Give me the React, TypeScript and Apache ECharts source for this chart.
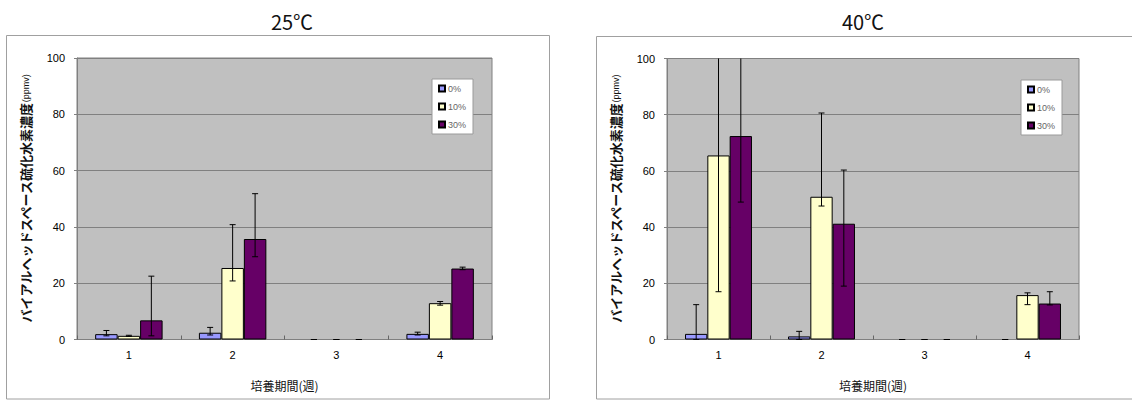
import React, { useEffect, useRef } from "react";
import * as echarts from "echarts";

const categories = ["1", "2", "3", "4"];
const seriesNames = ["0%", "10%", "30%"];
const seriesColors = ["#9999ff", "#ffffcc", "#660066"];

// 25℃
const t25_p0 = [1.9, 2.4, 0, 2.0];
const t25_p10 = [1.3, 25.4, 0, 12.9];
const t25_p30 = [6.8, 35.7, 0, 25.2];
const t25_p0_err = [[1.3, 3.2], [1.6, 4.3], [0, 0], [1.6, 2.6]];
const t25_p10_err = [[1.1, 1.5], [20.8, 40.8], [0, 0], [12.2, 13.5]];
const t25_p30_err = [[1.3, 22.5], [29.4, 51.8], [0, 0], [24.8, 25.7]];

// 40℃
const t40_p0 = [2.0, 1.1, 0, 0];
const t40_p10 = [65.5, 50.8, 0, 15.8];
const t40_p30 = [72.4, 41.2, 0, 12.8];
const t40_p0_err = [[0, 12.4], [0, 2.9], [0, 0], [0, 0]];
const t40_p10_err = [[17.0, 114], [47.5, 80.6], [0, 0], [12.4, 16.6]];
const t40_p30_err = [[48.9, 110], [19.0, 60.3], [0, 0], [12.3, 17.0]];

const panelTitles = ["25℃", "40℃"];
const xAxisTitle = "培養期間(週)";
const yAxisTitleMain = "バイアルヘッドスペース硫化水素濃度";
const yAxisTitleUnit = "(ppmv)";

const JP = '"Noto Sans CJK JP", "Noto Sans", sans-serif';
const NUM = '"Liberation Sans", Arial, sans-serif';

const Y_MAX = 100;
const CAT_GAP = 0.35;

function errSeries(errs: (number[] | null)[], idx: number, axis: number) {
  const data: number[][] = [];
  errs.forEach((e, i) => {
    if (e) data.push([i, e[0], e[1]]);
  });
  return {
    type: "custom",
    xAxisIndex: axis,
    yAxisIndex: axis,
    z: 5,
    silent: true,
    data,
    encode: { x: 0, y: [1, 2] },
    renderItem: (params: any, api: any) => {
      const cat = api.value(0);
      const lo = api.value(1);
      const hi = api.value(2);
      const band = api.size([1, 0])[0];
      const bw = (band * (1 - CAT_GAP)) / 3;
      const cx = api.coord([cat, 0])[0] + (idx - 1) * bw;
      const yHi = api.coord([cat, Math.min(hi, Y_MAX)])[1];
      const yLo = api.coord([cat, Math.max(lo, 0)])[1];
      const cap = 3;
      const style = { stroke: "#000", lineWidth: 1 };
      const children: any[] = [];
      if (hi > lo)
        children.push({ type: "line", shape: { x1: cx, y1: yHi, x2: cx, y2: yLo }, style });
      if (hi <= Y_MAX)
        children.push({ type: "line", shape: { x1: cx - cap, y1: yHi, x2: cx + cap, y2: yHi }, style });
      if (lo >= 0)
        children.push({ type: "line", shape: { x1: cx - cap, y1: yLo, x2: cx + cap, y2: yLo }, style });
      return { type: "group", children };
    },
  };
}

function barSeries(values: number[], idx: number, axis: number) {
  return {
    type: "bar",
    name: seriesNames[idx],
    xAxisIndex: axis,
    yAxisIndex: axis,
    data: values.map((v) => (v === 0 ? { value: v, itemStyle: { borderWidth: 0 } } : v)),
    barGap: "0%",
    barCategoryGap: CAT_GAP * 100 + "%",
    itemStyle: { color: seriesColors[idx], borderColor: "#000", borderWidth: 1 },
    z: 2,
  };
}

function xAxisCfg(grid: number) {
  return {
    type: "category",
    gridIndex: grid,
    data: categories,
    name: xAxisTitle,
    nameLocation: "middle",
    nameGap: 40,
    nameTextStyle: { fontFamily: JP, fontSize: 12, color: "#111" },
    axisLine: { show: true, lineStyle: { color: "#808080", width: 1 } },
    axisTick: { show: true, inside: true, length: 4, lineStyle: { color: "#666" } },
    axisLabel: { fontFamily: NUM, fontSize: 11, color: "#000", margin: 10 },
    splitLine: { show: false },
  };
}

function yAxisCfg(grid: number) {
  return {
    type: "value",
    gridIndex: grid,
    min: 0,
    max: Y_MAX,
    interval: 20,
    name: "{a|" + yAxisTitleMain + "}{b|" + yAxisTitleUnit + "}",
    nameLocation: "middle",
    nameRotate: 90,
    nameGap: 45,
    nameTextStyle: {
      rich: {
        a: { fontFamily: JP, fontSize: 13, color: "#111", fontWeight: "bold" },
        b: { fontFamily: NUM, fontSize: 9, color: "#111" },
      },
    },
    axisLine: { show: true, lineStyle: { color: "#808080", width: 1 } },
    axisTick: { show: true, length: 3, lineStyle: { color: "#808080" } },
    axisLabel: { fontFamily: NUM, fontSize: 11, color: "#000", margin: 12 },
    splitLine: { show: true, lineStyle: { color: "#808080", width: 1 } },
  };
}

function legendCfg(left: number, top: number) {
  return {
    data: seriesNames,
    orient: "vertical",
    left,
    top,
    itemWidth: 6,
    itemHeight: 6,
    itemGap: 7,
    padding: [4, 7, 4, 6],
    icon: "rect",
    backgroundColor: "#ffffff",
    borderColor: "#9a9a9a",
    borderWidth: 1,
    selectedMode: false,
    textStyle: { fontFamily: NUM, fontSize: 9, color: "#666", lineHeight: 11, padding: [0, 0, 0, -2] },
  };
}

export default function App() {
  const ref = useRef<HTMLDivElement>(null);
  useEffect(() => {
    if (!ref.current) return;
    const chart = echarts.init(ref.current, null, { renderer: "svg" });
    chart.setOption({
      animation: false,
      backgroundColor: "#ffffff",
      grid: [
        { left: 77, top: 58, width: 415, height: 281.5, show: true, backgroundColor: "#c0c0c0", borderColor: "#808080", borderWidth: 1, containLabel: false },
        { left: 667, top: 58.5, width: 412, height: 281, show: true, backgroundColor: "#c0c0c0", borderColor: "#808080", borderWidth: 1, containLabel: false },
      ],
      xAxis: [xAxisCfg(0), xAxisCfg(1)],
      yAxis: [yAxisCfg(0), yAxisCfg(1)],
      legend: [legendCfg(432, 79), legendCfg(1021, 80)],
      graphic: [
        { type: "rect", shape: { x: 6.5, y: 35.5, width: 543, height: 363.5 }, style: { fill: "none", stroke: "#a0a0a0", lineWidth: 1 }, silent: true },
        { type: "rect", shape: { x: 596.5, y: 36.5, width: 600, height: 362.5 }, style: { fill: "none", stroke: "#a0a0a0", lineWidth: 1 }, silent: true },
        { type: "text", x: 292, y: 21, style: { text: panelTitles[0], fontFamily: JP, fontSize: 20, fill: "#111", align: "center", verticalAlign: "middle" } },
        { type: "text", x: 863, y: 21, style: { text: panelTitles[1], fontFamily: JP, fontSize: 20, fill: "#111", align: "center", verticalAlign: "middle" } },
      ],
      series: [
        barSeries(t25_p0, 0, 0),
        barSeries(t25_p10, 1, 0),
        barSeries(t25_p30, 2, 0),
        errSeries(t25_p0_err, 0, 0),
        errSeries(t25_p10_err, 1, 0),
        errSeries(t25_p30_err, 2, 0),
        barSeries(t40_p0, 0, 1),
        barSeries(t40_p10, 1, 1),
        barSeries(t40_p30, 2, 1),
        errSeries(t40_p0_err, 0, 1),
        errSeries(t40_p10_err, 1, 1),
        errSeries(t40_p30_err, 2, 1),
      ],
    });
    return () => chart.dispose();
  }, []);
  return (
    <div
      ref={ref}
      style={{ position: "absolute", left: 0, top: 0, width: 1132, height: 401 }}
    />
  );
}
